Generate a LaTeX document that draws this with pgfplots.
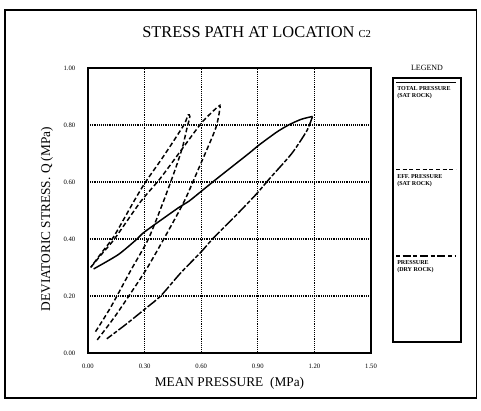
\documentclass[border=0pt]{standalone}
\usepackage{fontspec}
\setmainfont{Liberation Serif}
\usepackage{pgfplots}
\pgfplotsset{compat=1.18}
\begin{document}
\begin{tikzpicture}[x=1pt,y=1pt]
\useasboundingbox (0,0) rectangle (360.75,307.5);
\draw[line width=0.9pt] (3.75,9) rectangle (357.5,300);
\node[font=\fontsize{12.3}{14}\selectfont] at (192.5,283.5) {STRESS PATH AT LOCATION {\fontsize{8}{9}\selectfont C2}};
\begin{axis}[
  at={(66pt,42.75pt)}, anchor=south west,
  scale only axis, width=212.25pt, height=213.75pt,
  xmin=0, xmax=1.5, ymin=0, ymax=1.0,
  xtick={0,0.3,0.6,0.9,1.2,1.5},
  ytick={0,0.2,0.4,0.6,0.8,1.0},
  xticklabels={0.00,0.30,0.60,0.90,1.20,1.50},
  yticklabels={0.00,0.20,0.40,0.60,0.80,1.00},
  major tick length=0pt,
  grid=major,
  grid style={densely dotted, line width=0.8pt, black},
  axis line style={line width=1.1pt},
  tick label style={font=\fontsize{5}{6}\selectfont},
  xticklabel style={yshift=-5pt},
  yticklabel style={xshift=-6pt},
  xlabel={MEAN PRESSURE \ (MPa)},
  ylabel={DEVIATORIC STRESS. Q (MPa)},
  label style={font=\fontsize{10}{12}\selectfont},
  xlabel style={at={(axis description cs:0.5,0)}, anchor=center, yshift=-22.5pt},
  ylabel style={at={(axis description cs:-0.145,0.47)}, anchor=center},
  clip=false,
]
% Total pressure (sat rock)
\addplot[black, line width=1.1pt, smooth, tension=0.4] coordinates {
(0.03,0.295) (0.16,0.345) (0.26,0.40) (0.30,0.425) (0.48,0.51) (0.534,0.532)
(0.676,0.608) (0.852,0.70) (0.905,0.729) (1.00,0.775) (1.063,0.80) (1.13,0.82) (1.19,0.83)};
% Pressure (dry rock)
\addplot[black, line width=1.1pt, smooth, tension=0.4, dash pattern=on 8pt off 1.5pt on 3pt off 1.5pt] coordinates {
(1.19,0.83) (1.16,0.78) (1.08,0.70) (0.96,0.61) (0.89,0.556) (0.78,0.48) (0.66,0.40)
(0.60,0.355) (0.49,0.28) (0.385,0.20) (0.305,0.156) (0.20,0.10) (0.10,0.05)};
% Eff. pressure loop 1
\addplot[black, line width=1.1pt, smooth, tension=0.4, dash pattern=on 3.5pt off 2pt] coordinates {
(0.04,0.075) (0.12,0.16) (0.226,0.289) (0.32,0.40) (0.40,0.532) (0.46,0.64) (0.50,0.72)
(0.525,0.79) (0.54,0.83) (0.53,0.835) (0.508,0.80) (0.40,0.69) (0.305,0.60) (0.243,0.532)
(0.138,0.41) (0.07,0.35) (0.014,0.30)};
% Eff. pressure loop 2
\addplot[black, line width=1.1pt, smooth, tension=0.4, dash pattern=on 3.5pt off 2pt] coordinates {
(0.049,0.046) (0.15,0.135) (0.305,0.289) (0.41,0.41) (0.51,0.532) (0.587,0.648) (0.676,0.787)
(0.70,0.862) (0.69,0.865) (0.605,0.81) (0.50,0.717) (0.38,0.61) (0.28,0.532) (0.14,0.40)
(0.07,0.345) (0.014,0.30)};
\end{axis}
% legend
\node[font=\fontsize{6}{7}\selectfont] at (320.25,256.5) {LEGEND};
\draw[line width=0.9pt] (294.75,51) rectangle (345.75,249);
\begin{scope}[font=\fontsize{4.5}{5.2}\selectfont\bfseries]
\draw[line width=0.9pt] (297,245.6) -- (342,245.6);
\node[anchor=north west, inner sep=0pt, align=left] at (297.75,242.5) {TOTAL PRESSURE\\(SAT ROCK)};
\draw[line width=0.9pt, dash pattern=on 3pt off 2pt] (297,180.5) -- (342,180.5);
\node[anchor=north west, inner sep=0pt, align=left] at (297.75,176.5) {EFF. PRESSURE\\(SAT ROCK)};
\draw[line width=0.9pt, dash pattern=on 3pt off 2pt on 6pt off 2pt] (297,115.5) -- (342,115.5);
\node[anchor=north west, inner sep=0pt, align=left] at (297.75,112) {PRESSURE\\(DRY ROCK)};
\end{scope}
\end{tikzpicture}
\end{document}
